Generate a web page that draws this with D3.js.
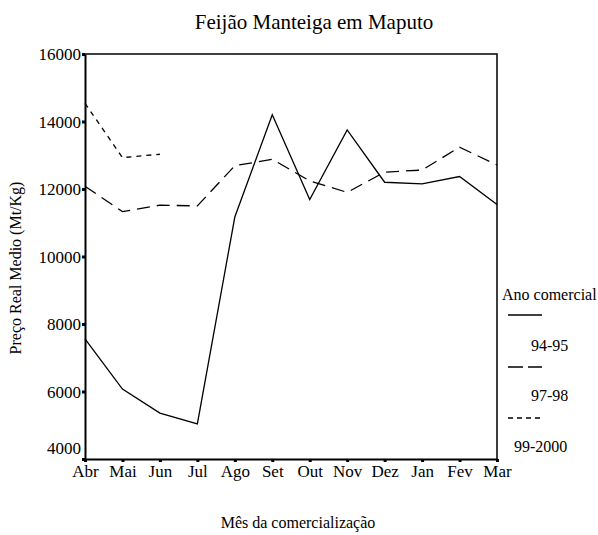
<!DOCTYPE html>
<html>
  <head>
    <meta charset="utf-8">
    <title>Feijão Manteiga em Maputo</title>
    <style>
      body { margin: 0; background: #fff; }
      svg, svg text { font-family: "Liberation Serif", "DejaVu Serif", serif; }
      .axis path { stroke: #000; stroke-width: 2; }
      .axis line { stroke: #000; stroke-width: 3; }
      .axis text { font-family: "Liberation Serif", serif; font-size: 17px; fill: #000; }
      .series { fill: none; stroke: #000; stroke-width: 1.3; }
    </style>
  </head>
  <body>
    <svg width="598" height="535"></svg>
    <script src="https://cdn.jsdelivr.net/npm/d3@7"></script>
    <script>
      // months of the commercial year
      var months = ["Abr", "Mai", "Jun", "Jul", "Ago", "Set", "Out", "Nov", "Dez", "Jan", "Fev", "Mar"];
      var yTicks = [4000, 6000, 8000, 10000, 12000, 14000, 16000];

      // real average price (Mt/Kg)
      var ano9495 = [7560, 6070, 5360, 5040, 11170, 14200, 11690, 13750, 12200, 12150, 12370, 11540];
      var ano9798 = [12080, 11330, 11520, 11500, 12690, 12880, 12240, 11900, 12500, 12560, 13240, 12710];
      var ano9900 = [14540, 12930, 13030];

      var seriesNames = ["94-95", "97-98", "99-2000"];
      var dashes = [null, "13,7", "5,5"];
      var legendDashes = [null, "15,5", "5,4"];

      var svg = d3.select("svg");
      var mLeft = 85, mRight = 497, mTop = 54, mBottom = 459;

      var x = d3.scalePoint().domain(months).range([mLeft, mRight]);
      var y = d3.scaleLinear().domain([4000, 16000]).range([mBottom, mTop]);

      // frame (top and right)
      svg.append("path")
        .attr("d", `M${mLeft},${mTop}H${mRight}V${mBottom}`)
        .attr("fill", "none")
        .attr("stroke", "#000")
        .attr("stroke-width", 1.5);

      var yAxis = svg.append("g")
        .attr("class", "axis")
        .attr("transform", `translate(${mLeft},0)`)
        .call(d3.axisLeft(y).tickValues(yTicks).tickSize(3).tickSizeOuter(0).tickFormat(d3.format("d")));
      yAxis.attr("font-family", "Liberation Serif").attr("font-size", 17);
      yAxis.selectAll("text").attr("x", -4).attr("dy", "0.35em");
      // lowest label sits a bit above its tick
      yAxis.selectAll(".tick").filter(d => d === 4000).select("text").attr("dy", "-0.3em");

      var xAxis = svg.append("g")
        .attr("class", "axis")
        .attr("transform", `translate(0,${mBottom})`)
        .call(d3.axisBottom(x).tickSize(3).tickSizeOuter(0));
      xAxis.attr("font-family", "Liberation Serif").attr("font-size", 17);
      xAxis.selectAll("text").attr("y", 6).attr("dy", "0.71em");

      var line = d3.line()
        .x((d, i) => x(months[i]))
        .y(d => y(d));

      [ano9495, ano9798, ano9900].forEach(function(vals, i) {
        svg.append("path")
          .attr("class", "series")
          .attr("d", line(vals))
          .attr("stroke-dasharray", dashes[i]);
      });

      // titles
      svg.append("text")
        .attr("x", 314).attr("y", 29)
        .attr("text-anchor", "middle")
        .style("font-size", "21px")
        .text("Feijão Manteiga em Maputo");

      svg.append("text")
        .attr("transform", "translate(21,268) rotate(-90)")
        .attr("text-anchor", "middle")
        .style("font-size", "16px")
        .text("Preço Real Medio (Mt/Kg)");

      svg.append("text")
        .attr("x", 298).attr("y", 528)
        .attr("text-anchor", "middle")
        .style("font-size", "16px")
        .text("Mês da comercialização");

      // legend
      var legend = svg.append("g").style("font-size", "16px");
      legend.append("text").attr("x", 502).attr("y", 300).text("Ano comercial");
      var lineY = [315, 367, 418];
      var labelY = [351, 401, 452];
      var labelX = [531, 531, 514];
      seriesNames.forEach(function(name, i) {
        legend.append("line")
          .attr("x1", 508).attr("x2", 542)
          .attr("y1", lineY[i]).attr("y2", lineY[i])
          .attr("stroke", "#000")
          .attr("stroke-width", 1.3)
          .attr("stroke-dasharray", legendDashes[i]);
        legend.append("text")
          .attr("x", labelX[i]).attr("y", labelY[i])
          .text(name);
      });
    </script>
  </body>
</html>
